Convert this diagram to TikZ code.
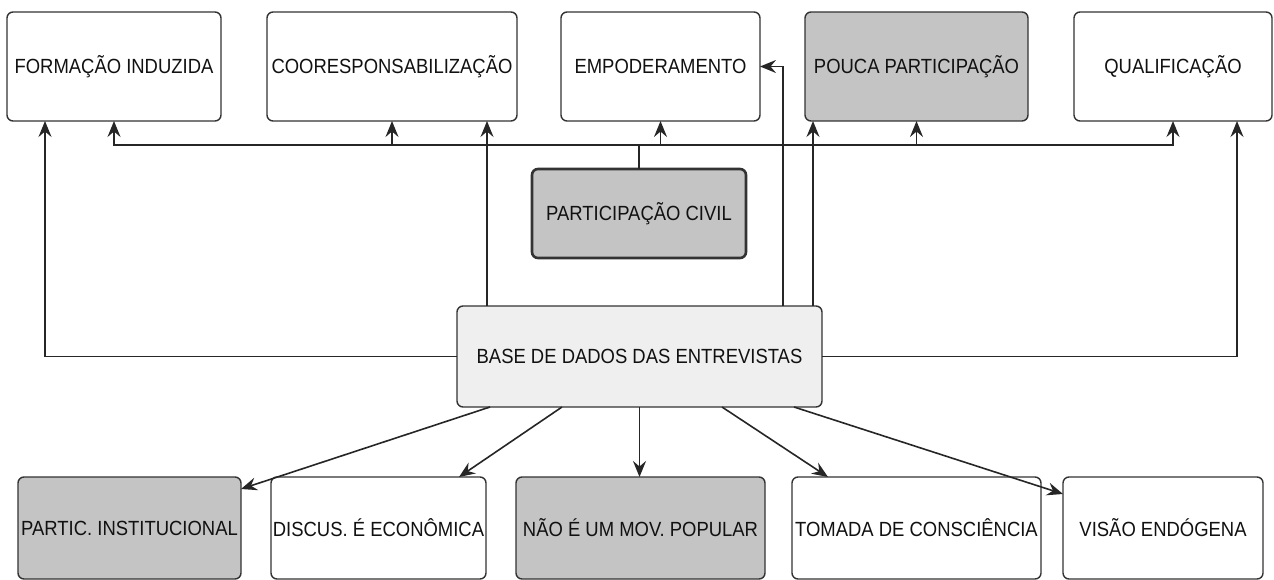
\documentclass[tikz,border=0pt]{standalone}
\usepackage{fontspec}
\setmainfont{Liberation Sans}[FakeStretch=0.9]
\usetikzlibrary{arrows.meta,calc}
\definecolor{boxgray}{HTML}{C4C4C4}
\definecolor{basefill}{HTML}{EFEFEF}
\definecolor{edgecol}{HTML}{333333}
\definecolor{txtcol}{HTML}{111111}
\begin{document}
\begin{tikzpicture}[x=1pt,y=-1pt,
  box/.style={draw=edgecol, line width=1.4pt, rounded corners=6pt, fill=white,
    minimum height=109pt, inner sep=0pt, outer sep=0pt,
    font=\fontsize{20.5}{23}\selectfont, text=txtcol},
  graybox/.style={box, fill=boxgray},
  lowbox/.style={minimum height=102pt},
  conn/.style={draw=black!85, line width=1.6pt, rounded corners=0pt,
    -{Stealth[length=16pt,width=13pt,inset=5.5pt]}},
]
\useasboundingbox (0,0) rectangle (1274,580);

% top row
\node[box, minimum width=214pt] (f1) at (114,66.5) {FORMAÇÃO INDUZIDA};
\node[box, minimum width=250pt] (f2) at (392,66.5) {COORESPONSABILIZAÇÃO};
\node[box, minimum width=199pt] (f3) at (660.5,66.5) {EMPODERAMENTO};
\node[graybox, minimum width=223pt] (f4) at (916.5,66.5) {POUCA PARTICIPAÇÃO};
\node[box, minimum width=198pt] (f5) at (1173,66.5) {QUALIFICAÇÃO};

% middle
\node[graybox, line width=2.6pt, minimum width=214pt, minimum height=89pt] (pc) at (639,213.5) {PARTICIPAÇÃO CIVIL};
\node[box, fill=basefill, minimum width=365pt, minimum height=101pt] (base) at (639.5,356.5) {BASE DE DADOS DAS ENTREVISTAS};

% bottom row
\node[graybox, lowbox, minimum width=223pt] (p1) at (129.5,528) {PARTIC. INSTITUCIONAL};
\node[box, lowbox, minimum width=215pt] (p2) at (378.5,528) {DISCUS. É ECONÔMICA};
\node[graybox, lowbox, minimum width=249pt] (p3) at (640.5,528) {NÃO É UM MOV. POPULAR};
\node[box, lowbox, minimum width=249pt] (p4) at (916.5,528) {TOMADA DE CONSCIÊNCIA};
\node[box, lowbox, minimum width=200pt] (p5) at (1163,528) {VISÃO ENDÓGENA};

% bus from PARTICIPACAO CIVIL
\coordinate (busy) at (0,145);
\foreach \t in {f1,f2,f3,f4,f5}{
  \draw[conn] (pc.north) -- (pc.north |- busy) -| (\t.south);
}

% direct connectors from BASE to top row
\draw[conn] (base.west) -| ([xshift=38pt]f1.south west);
\coordinate (f2in) at ([xshift=-30pt]f2.south east);
\draw[conn] (f2in |- base.north) -- (f2in);
\draw[conn] ([xshift=326pt]base.north west) |- (f3.east);
\coordinate (f4in) at ([xshift=8pt]f4.south west);
\draw[conn] (f4in |- base.north) -- (f4in);
\draw[conn] (base.east) -| ([xshift=-35pt]f5.south east);

% connectors from BASE to bottom row
\draw[conn] ([xshift=-149.5pt]base.south) -- ([yshift=-12pt]p1.north east);
\draw[conn] ([xshift=-77.5pt]base.south) -- ([xshift=80.5pt]p2.north);
\draw[conn] (base.south) -- (base.south |- p3.north);
\draw[conn] ([xshift=82.5pt]base.south) -- ([xshift=-88.5pt]p4.north);
\draw[conn] ([xshift=154.5pt]base.south) -- ([yshift=-17pt]p5.north west);
\end{tikzpicture}
\end{document}
